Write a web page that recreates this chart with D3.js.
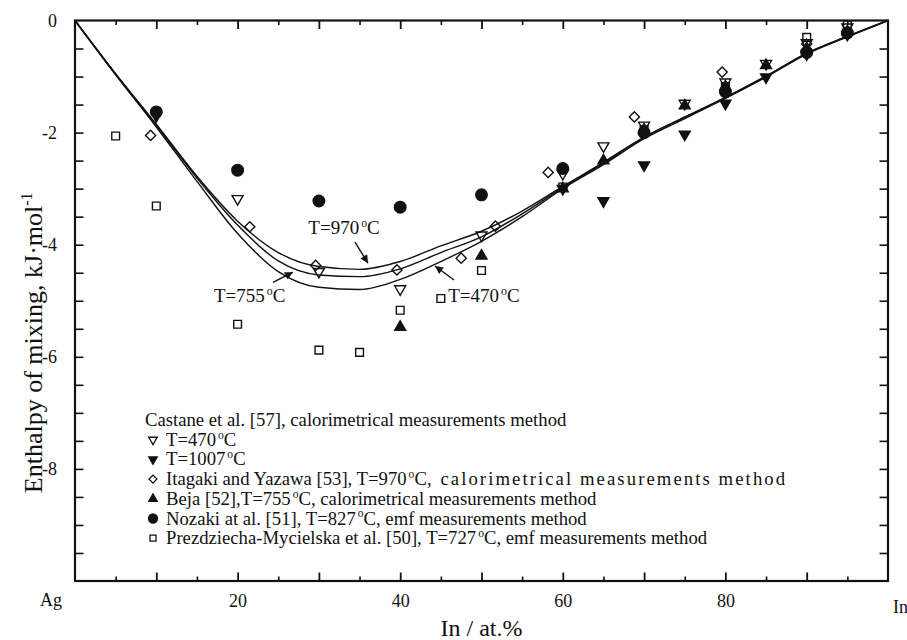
<!DOCTYPE html>
<html>
<head>
<meta charset="utf-8">
<script src="https://cdn.jsdelivr.net/npm/d3@7"></script>
<style>
html,body{margin:0;padding:0;background:#fff;}
svg{display:block;}
text{font-family:"Liberation Serif","Times New Roman",serif;fill:#111;}
</style>
</head>
<body>
<svg id="chart" width="907" height="640"></svg>
<script>
// ---- data ----
const curveX = [0, 5, 10, 15, 20, 25, 30, 35, 40, 45, 50, 55, 60, 65, 70, 75, 80, 85, 90, 95, 100];
const curve970 = [0, -0.95, -1.85, -2.78, -3.58, -4.14, -4.39, -4.44, -4.3, -4.02, -3.76, -3.4, -2.96, -2.53, -2.08, -1.72, -1.37, -0.99, -0.58, -0.28, 0];
const curve470 = [0, -0.96, -1.87, -2.81, -3.65, -4.29, -4.54, -4.57, -4.43, -4.14, -3.86, -3.45, -2.98, -2.55, -2.09, -1.73, -1.38, -1.0, -0.59, -0.29, 0];
const curve755 = [0, -0.97, -1.9, -2.87, -3.8, -4.48, -4.76, -4.8, -4.62, -4.3, -3.94, -3.5, -3.0, -2.57, -2.11, -1.75, -1.39, -1.01, -0.6, -0.29, 0];

const castane470 = [[20,-3.18],[30,-4.48],[40,-4.79],[50,-3.83],[60,-2.73],[65,-2.24],[70,-1.87],[75,-1.48],[80,-1.1],[85,-0.77],[90,-0.4],[95,-0.12]];
const castane1007 = [[10,-1.7],[60,-3.0],[65,-3.22],[70,-2.58],[75,-2.03],[80,-1.48],[85,-1.01],[90,-0.6],[95,-0.25]];
const itagaki = [[9.3,-2.05],[21.5,-3.68],[29.6,-4.37],[39.6,-4.45],[47.5,-4.24],[51.7,-3.67],[58.2,-2.71],[68.8,-1.72],[79.6,-0.92],[90,-0.42]];
const beja = [[40,-5.47],[50,-4.2],[60,-3.0],[65,-2.5],[70,-1.95],[75,-1.52],[80,-1.18],[85,-0.8],[90,-0.5],[95,-0.2]];
const nozaki = [[10,-1.63],[20,-2.67],[30,-3.22],[40,-3.33],[50,-3.11],[60,-2.64],[70,-2.0],[80,-1.27],[90,-0.57],[95,-0.22]];
const prez = [[5,-2.06],[10,-3.31],[20,-5.42],[30,-5.88],[35,-5.92],[40,-5.17],[45,-4.96],[50,-4.46],[60,-2.97],[70,-1.95],[80,-1.18],[90,-0.3],[95,-0.08]];

const xLabelTicks = [20, 40, 60, 80];
const yLabelTicks = [0, -2, -4, -6, -8];
const legendLabels = [
  ["T=470°C"],
  ["T=1007°C"],
  ["Itagaki and Yazawa [53], T=970°C", ", calorimetrical measurements method"],
  ["Beja [52],T=755°C, calorimetrical measurements method"],
  ["Nozaki at al. [51], T=827°C, emf measurements method"],
  ["Prezdziecha-Mycielska et al. [50], T=727°C, emf measurements method"]
];
const legendHeader = "Castane et al. [57], calorimetrical measurements method";
const curveLabels = [
  {text:"T=970°C", x:28.7, y:-3.81, ax:34.44, ay:-3.955, bx:36.04, by:-4.33},
  {text:"T=470°C", x:45.9, y:-5.03, ax:46.62, ay:-4.63, bx:44.28, by:-4.38},
  {text:"T=755°C", x:17.1, y:-5.03, ax:24.35, ay:-4.67, bx:26.81, by:-4.49}
];

// ---- chart ----
const svg = d3.select("#chart");
const x = d3.scaleLinear().domain([0, 100]).range([75, 888]);
const y = d3.scaleLinear().domain([-10, 0]).range([581, 20.5]);

// superscript-o writer
function writeDeg(sel, str, size) {
  const parts = str.split("°");
  sel.append("tspan").text(parts[0]);
  for (let i = 1; i < parts.length; i++) {
    sel.append("tspan").attr("font-size", size * 0.62).attr("dy", -size * 0.38).attr("dx", 2).text("o");
    sel.append("tspan").attr("dy", size * 0.38).text(parts[i]);
  }
}

// axes
function styleAxis(g, w) {
  g.select(".domain").remove();
  g.selectAll(".tick line").attr("stroke", "#111").attr("stroke-width", w);
}
const minorX = d3.range(5, 100, 10);
const majorX = d3.range(10, 100, 10);
const yTicks = d3.range(-9.5, 0, 0.5);

svg.append("g").attr("transform", `translate(0,${y(-10)})`)
  .call(d3.axisBottom(x).tickValues(minorX).tickSize(-4.5).tickFormat(""))
  .call(g => styleAxis(g, 1.6));
svg.append("g").attr("transform", `translate(0,${y(-10)})`)
  .call(d3.axisBottom(x).tickValues(majorX).tickSize(-8.5).tickPadding(8)
    .tickFormat(d => xLabelTicks.includes(d) ? d : ""))
  .call(g => styleAxis(g, 1.8))
  .call(g => g.selectAll("text").attr("font-size", 18).attr("fill", "#111").attr("dy", "1em"));

svg.append("g").attr("transform", `translate(0,${y(0)})`)
  .call(d3.axisTop(x).tickValues(minorX).tickSize(-4.5).tickFormat(""))
  .call(g => styleAxis(g, 1.6));
svg.append("g").attr("transform", `translate(0,${y(0)})`)
  .call(d3.axisTop(x).tickValues(majorX).tickSize(-8.5).tickFormat(""))
  .call(g => styleAxis(g, 1.8));

svg.append("g").attr("transform", `translate(${x(0)},0)`)
  .call(d3.axisLeft(y).tickValues(yTicks).tickSize(-8.5).tickFormat(""))
  .call(g => styleAxis(g, 1.6));
svg.append("g").attr("transform", `translate(${x(0)},0)`)
  .call(d3.axisLeft(y).tickValues(yLabelTicks).tickSize(0).tickPadding(18).tickFormat(d => d))
  .call(g => styleAxis(g, 1.6))
  .call(g => g.selectAll("text").attr("font-size", 18).attr("fill", "#111"));

svg.append("g").attr("transform", `translate(${x(100)},0)`)
  .call(d3.axisRight(y).tickValues(yTicks).tickSize(-8.5).tickFormat(""))
  .call(g => styleAxis(g, 1.6));

// frame
svg.append("rect").attr("x", x(0)).attr("y", y(0))
  .attr("width", x(100) - x(0)).attr("height", y(-10) - y(0))
  .attr("fill", "none").attr("stroke", "#111").attr("stroke-width", 2.2);

// end labels
svg.append("text").attr("x", x(0) - 35).attr("y", y(-10) + 25).attr("font-size", 18).text("Ag");
svg.append("text").attr("x", x(100) + 5).attr("y", y(-10) + 32).attr("font-size", 18).text("In");

// axis titles
svg.append("text").attr("x", x(50)).attr("y", 636).attr("text-anchor", "middle")
  .attr("font-size", 24).text("In / at.%");
const yt = svg.append("text").attr("transform", `translate(42,${y(-5.75)}) rotate(-90)`)
  .attr("text-anchor", "middle").attr("font-size", 26);
yt.append("tspan").text("Enthalpy of mixing, kJ\u00B7mol");
yt.append("tspan").attr("font-size", 16).attr("dy", -10).text("-1");

// curves
const line = d3.line().x(d => x(d[0])).y(d => y(d[1])).curve(d3.curveMonotoneX);
[curve970, curve470, curve755].forEach(c => {
  svg.append("path").datum(curveX.map((v, i) => [v, c[i]]))
    .attr("d", line).attr("fill", "none").attr("stroke", "#111").attr("stroke-width", 1.4);
});

// arrow marker
svg.append("defs").append("marker").attr("id", "ah").attr("viewBox", "0 0 10 10")
  .attr("refX", 10).attr("refY", 5).attr("markerWidth", 10).attr("markerHeight", 8)
  .attr("markerUnits", "userSpaceOnUse").attr("orient", "auto")
  .append("path").attr("d", "M0,0 L10,5 L0,10 z").attr("fill", "#111");

curveLabels.forEach(a => {
  const t = svg.append("text").attr("x", x(a.x)).attr("y", y(a.y)).attr("font-size", 19);
  writeDeg(t, a.text, 19);
  svg.append("line").attr("x1", x(a.ax)).attr("y1", y(a.ay)).attr("x2", x(a.bx)).attr("y2", y(a.by))
    .attr("stroke", "#111").attr("stroke-width", 1.4).attr("marker-end", "url(#ah)");
});

// symbols
const sym = {
  downOpen:  {type: d3.symbolTriangle, size: 52, rot: 180, fill: "none"},
  downFill:  {type: d3.symbolTriangle, size: 52, rot: 180, fill: "#111"},
  diamond:   {type: d3.symbolSquare,   size: 52, rot: 45,  fill: "none"},
  upFill:    {type: d3.symbolTriangle, size: 52, rot: 0,   fill: "#111"},
  circle:    {type: d3.symbolCircle,   size: 105, rot: 0,  fill: "#111"},
  square:    {type: d3.symbolSquare,   size: 60, rot: 0,   fill: "none"}
};
const seriesList = [
  {data: prez, s: sym.square},
  {data: itagaki, s: sym.diamond},
  {data: castane470, s: sym.downOpen},
  {data: nozaki, s: sym.circle},
  {data: beja, s: sym.upFill},
  {data: castane1007, s: sym.downFill}
];
seriesList.forEach(se => {
  svg.append("g").selectAll("path").data(se.data).join("path")
    .attr("d", d3.symbol().type(se.s.type).size(se.s.size))
    .attr("transform", d => `translate(${x(d[0])},${y(d[1])}) rotate(${se.s.rot})`)
    .attr("fill", se.s.fill)
    .attr("stroke", "#111").attr("stroke-width", 1.4);
});

// legend
const legX = 153, legBase = 426, legStep = 19.7, legFont = 18.7;
svg.append("text").attr("x", 145).attr("y", legBase).attr("font-size", legFont).text(legendHeader);
const legSyms = [sym.downOpen, sym.downFill, sym.diamond, sym.upFill, sym.circle, sym.square];
legendLabels.forEach((lab, i) => {
  const by = legBase + legStep * (i + 1);
  const s = legSyms[i];
  svg.append("path").attr("d", d3.symbol().type(s.type).size(s.size * 0.6))
    .attr("transform", `translate(${legX},${by - 6}) rotate(${s.rot})`)
    .attr("fill", s.fill)
    .attr("stroke", "#111").attr("stroke-width", 1.3);
  const t = svg.append("text").attr("x", 166).attr("y", by).attr("font-size", legFont);
  writeDeg(t, lab[0], legFont);
  if (lab[1]) {
    const w0 = t.node().getComputedTextLength();
    const tail = t.append("tspan").text(lab[1]);
    const w1 = t.node().getComputedTextLength();
    const target = 785 - 166 - w0;
    const ls = Math.max(0, (target - (w1 - w0)) / lab[1].length);
    tail.attr("letter-spacing", ls.toFixed(2));
  }
});
</script>
</body>
</html>
